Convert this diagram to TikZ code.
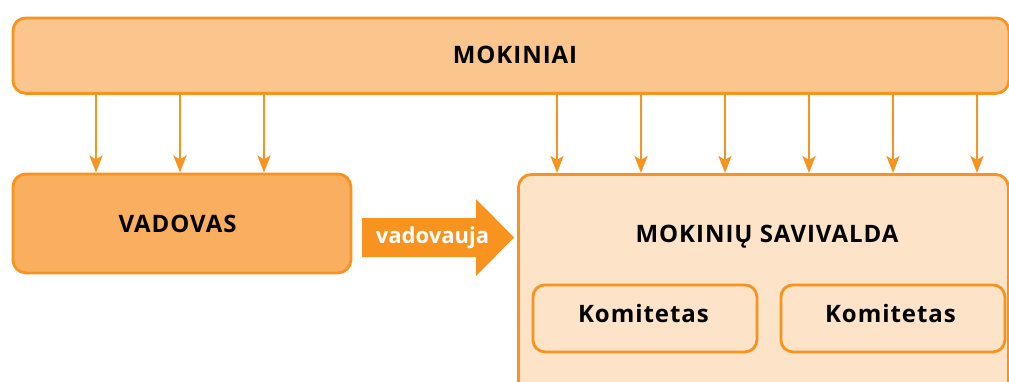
\documentclass[tikz,border=0pt]{standalone}
\usepackage{fontspec}
\setmainfont{Open Sans}
\usetikzlibrary{arrows.meta}
\definecolor{org}{HTML}{F7931E}
\definecolor{barfill}{HTML}{FBC68D}
\definecolor{vadfill}{HTML}{F9AF5F}
\definecolor{savfill}{HTML}{FDE3C8}
\tikzset{
  boxframe/.style={draw=org, line width=2.8pt, rounded corners=13pt, inner sep=0pt, anchor=north west},
  lbl/.style={font=\fontsize{24}{28}\bfseries\addfontfeatures{LetterSpace=4}, text=black, anchor=base, inner sep=0pt},
  arr/.style={draw=org, line width=2.8pt, -{Stealth[length=17pt,width=13pt,inset=4pt]}},
  bigarrow/.style={fill=org},
  arrlbl/.style={font=\fontsize{22}{26}\bfseries, text=white, anchor=base, inner sep=0pt}
}
\begin{document}
\begin{tikzpicture}[x=1pt,y=-1pt]
\useasboundingbox (0,0) rectangle (1009,381);
\clip (0,0) rectangle (1009,381);
% boxes
\node[boxframe, fill=barfill, minimum width=996pt, minimum height=75.5pt] (mok) at (11.5,16.5) {};
\node[boxframe, fill=vadfill, minimum width=338pt, minimum height=99pt] (vad) at (11.5,172.5) {};
\node[boxframe, fill=savfill, minimum width=490pt, minimum height=230pt] (sav) at (517,173) {};
\node[boxframe, fill=savfill, rounded corners=12pt, minimum width=224pt, minimum height=67pt] (kom1) at (531.5,283.5) {};
\node[boxframe, fill=savfill, rounded corners=12pt, minimum width=224pt, minimum height=67pt] (kom2) at (779.5,283.5) {};
% labels
\node[lbl] (mokt) at (515,63) {MOKINIAI};
\node[lbl] (vadt) at (177.5,232) {VADOVAS};
\node[lbl] (savt) at (767,242) {MOKINIŲ SAVIVALDA};
\node[lbl] (kom1t) at (643.5,322) {Komitetas};
\node[lbl] (kom2t) at (890.5,322) {Komitetas};
% connectors
\foreach \x in {96,180,264}
  \draw[arr] (mok.south -| \x,0) -- (vad.north -| \x,0);
\foreach \x in {557,641,725,809,893,977}
  \draw[arr] (mok.south -| \x,0) -- (sav.north -| \x,0);
% big arrow
\fill[bigarrow] (362,218) -- (476,218) -- (476,199) -- (514,237.5) -- (476,276) -- (476,257) -- (362,257) -- cycle;
\node[arrlbl] (vadov) at (432.5,243.3) {vadovauja};
\end{tikzpicture}
\end{document}
